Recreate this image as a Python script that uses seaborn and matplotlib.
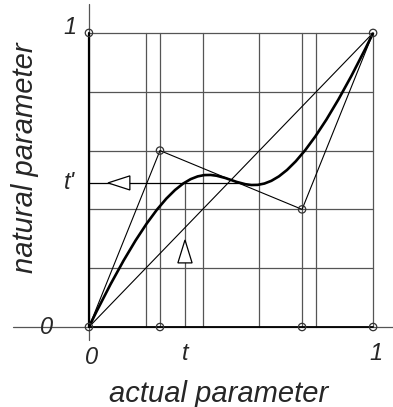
import pandas as pd
import seaborn as sns
import matplotlib.pyplot as plt
from matplotlib.path import Path
from matplotlib.patches import PathPatch, Polygon

# control polygon of the curve
ctrl_x = [0, 0.25, 0.75, 1]
ctrl_y = [0, 0.6, 0.4, 1]
# bezier handles of the drawn mapping curve (fitted to the picture)
curve_x = [0, 0.573, 0.427, 1]
curve_y = [0, 1.142, -0.142, 1]
# grid lines
grid_v = [0.2, 0.25, 0.4, 0.6, 0.75, 0.8, 1]
grid_h = [0.2, 0.4, 0.6, 0.8, 1]
# sample parameter and its mapped value
t_val = 0.338
t_prime = 0.49
t_prime_end = 0.53


def main():
    sns.set_style("white")
    plt.rcParams["font.family"] = ["Liberation Sans", "DejaVu Sans"]

    fig = plt.figure(figsize=(3.93, 4.07), dpi=100)
    ax = fig.add_axes([0, 0, 1, 1])
    ax.set_xlim(-0.313, 1.070)
    ax.set_ylim(-0.272, 1.112)
    ax.axis("off")

    grey = "#555555"
    # grid
    for gx in grid_v:
        ax.plot([gx, gx], [0, 1], color=grey, lw=0.9, zorder=1)
    for gy in grid_h:
        ax.plot([0, 1], [gy, gy], color=grey, lw=0.9, zorder=1)

    # axes: thin overhang + thick unit part
    ax.plot([0, 0], [-0.044, 1.099], color=grey, lw=0.9, zorder=2)
    ax.plot([-0.268, 1.07], [0, 0], color=grey, lw=0.9, zorder=2)
    ax.plot([0, 0], [0, 1], color="black", lw=1.6, zorder=3)
    ax.plot([0, 1], [0, 0], color="black", lw=1.3, zorder=3)

    # t / t' construction lines
    ax.plot([t_val, t_val], [0, t_prime], color=grey, lw=0.9, zorder=2)
    ax.plot([0, t_prime_end], [t_prime, t_prime], color="black", lw=0.9, zorder=2)

    # diagonal and control polygon
    diag = pd.DataFrame({"x": [0, 1], "y": [0, 1]})
    sns.lineplot(diag, x="x", y="y", color="black", lw=0.8, ax=ax, zorder=4)
    poly = pd.DataFrame({"x": ctrl_x, "y": ctrl_y})
    sns.lineplot(poly, x="x", y="y", sort=False, estimator=None,
                 color="black", lw=0.8, ax=ax, zorder=4)

    # mapping curve
    path = Path(list(zip(curve_x, curve_y)),
                [Path.MOVETO, Path.CURVE4, Path.CURVE4, Path.CURVE4])
    ax.add_patch(PathPatch(path, fill=False, color="black", lw=1.9, zorder=5))

    # circles at control points and their projections
    pts = pd.DataFrame({
        "x": ctrl_x + [0, ctrl_x[1], ctrl_x[2], ctrl_x[3]],
        "y": ctrl_y + [ctrl_y[3], 0, 0, 0],
    })
    sns.scatterplot(pts, x="x", y="y", s=28, facecolor="none",
                    edgecolor="#333333", linewidth=0.9, ax=ax, zorder=6)

    # open arrowheads
    ax.add_patch(Polygon([[0.067, t_prime], [0.144, t_prime + 0.024],
                          [0.144, t_prime - 0.024]], closed=True,
                         facecolor="white", edgecolor="black", lw=0.9, zorder=6))
    ax.add_patch(Polygon([[t_val, 0.296], [t_val - 0.025, 0.218],
                          [t_val + 0.025, 0.218]], closed=True,
                         facecolor="white", edgecolor="black", lw=0.9, zorder=6))

    # labels
    fs = 17
    kw = dict(style="italic", ha="center", va="center", fontsize=fs)
    ax.text(-0.067, 1.017, "1", **kw)
    ax.text(-0.067, t_prime, "t'", **kw)
    ax.text(-0.148, 0, "0", **kw)
    ax.text(0.01, -0.105, "0", **kw)
    ax.text(t_val, -0.09, "t", **kw)
    ax.text(1.01, -0.09, "1", **kw)
    ax.text(0.458, -0.256, "actual parameter", style="italic", ha="center",
            va="baseline", fontsize=21)
    ax.text(-0.225, 0.575, "natural parameter", style="italic", ha="center",
            va="center", rotation=90, fontsize=21)

    ax.set_xlabel("")
    ax.set_ylabel("")
    fig.savefig("out.png", dpi=100)


if __name__ == "__main__":
    main()
